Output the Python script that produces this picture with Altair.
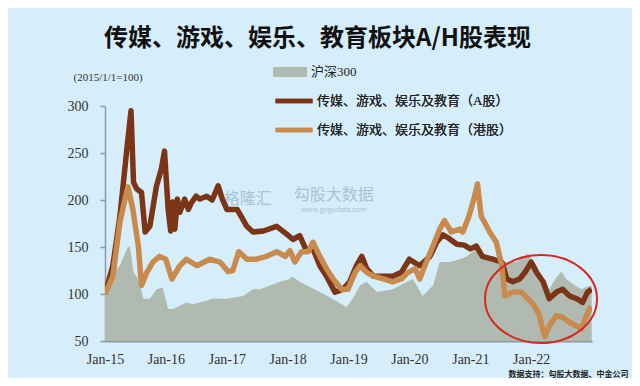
import altair as alt
import pandas as pd

# ---------------- data ----------------
csi_dates = ["2015-01-01", "2015-02-17", "2015-04-01", "2015-05-12", "2015-05-30", "2015-06-21",
             "2015-07-20", "2015-08-19", "2015-09-27", "2015-11-06", "2015-12-13", "2016-01-15",
             "2016-02-13", "2016-05-04", "2016-06-13", "2016-07-23", "2016-10-08", "2017-01-01",
             "2017-04-09", "2017-06-07", "2017-07-20", "2017-11-14", "2018-01-15", "2018-01-26",
             "2018-03-14", "2018-07-13", "2018-09-27", "2018-12-20", "2019-01-26", "2019-03-11",
             "2019-04-20", "2019-06-21", "2019-09-24", "2019-12-17", "2020-01-22", "2020-03-21",
             "2020-05-22", "2020-07-01", "2020-09-02", "2020-10-30", "2020-12-09", "2021-02-06",
             "2021-04-09", "2021-06-13", "2021-08-08", "2021-10-05", "2021-12-13", "2022-02-02",
             "2022-03-14", "2022-04-19", "2022-05-26", "2022-07-01", "2022-07-30", "2022-09-06",
             "2022-10-30", "2022-12-05", "2022-12-30"]
csi_values = [100, 123, 130, 148, 151, 123,
              116, 95, 95, 105, 107, 84,
              84, 91, 89, 91, 95, 95,
              98, 105, 105, 113, 116, 119,
              113, 102, 95, 86, 95, 109,
              113, 102, 105, 113, 116, 98,
              109, 134, 134, 137, 140, 148,
              137, 135, 134, 134, 143, 130,
              116, 105, 116, 124, 116, 111,
              105, 108, 109]

a_dates = ["2015-01-01", "2015-02-17", "2015-04-01", "2015-05-12", "2015-06-06", "2015-06-21",
           "2015-07-09", "2015-08-08", "2015-08-30", "2015-09-27", "2015-11-06", "2015-12-05",
           "2015-12-24", "2016-01-15", "2016-01-30", "2016-02-12", "2016-02-24", "2016-03-10",
           "2016-03-25", "2016-04-23", "2016-05-15", "2016-06-02", "2016-07-01", "2016-07-23",
           "2016-09-02", "2016-10-05", "2016-11-10", "2016-12-05", "2017-01-01", "2017-03-04",
           "2017-05-01", "2017-06-07", "2017-08-08", "2017-10-27", "2017-12-24", "2018-02-02",
           "2018-03-14", "2018-04-19", "2018-06-02", "2018-07-13", "2018-08-22", "2018-10-12",
           "2018-11-28", "2019-01-08", "2019-02-17", "2019-03-22", "2019-04-20", "2019-05-30",
           "2019-07-28", "2019-09-24", "2019-11-14", "2020-01-01", "2020-03-03", "2020-05-04",
           "2020-06-13", "2020-07-20", "2020-08-18", "2020-10-12", "2020-11-25", "2021-01-01",
           "2021-02-06", "2021-03-14", "2021-05-15", "2021-07-09", "2021-08-08", "2021-09-13",
           "2021-10-23", "2021-11-25", "2022-01-01", "2022-02-02", "2022-03-14", "2022-04-19",
           "2022-06-02", "2022-07-09", "2022-08-18", "2022-10-01", "2022-11-06", "2022-12-05",
           "2022-12-30"]
a_values = [100, 130, 183, 254, 295, 219,
            212, 208, 166, 172, 215, 233,
            252, 190, 167, 198, 169, 201,
            187, 201, 190, 197, 204, 201,
            204, 200, 215, 201, 190, 190,
            172, 166, 167, 172, 164, 158,
            162, 148, 148, 130, 119, 102,
            105, 113, 130, 140, 127, 119,
            119, 119, 123, 137, 130, 140,
            155, 163, 160, 153, 152, 148,
            151, 140, 137, 134, 116, 113,
            116, 123, 134, 123, 113, 95,
            102, 105, 98, 95, 91, 102,
            105]

hk_dates = ["2015-01-01", "2015-02-17", "2015-04-01", "2015-05-01", "2015-05-19", "2015-06-17",
            "2015-07-20", "2015-08-08", "2015-09-09", "2015-10-16", "2015-11-24", "2016-01-01",
            "2016-02-06", "2016-03-25", "2016-05-04", "2016-07-05", "2016-09-20", "2016-11-21",
            "2017-01-08", "2017-02-06", "2017-03-14", "2017-05-01", "2017-06-28", "2017-08-25",
            "2017-10-27", "2017-12-17", "2018-01-15", "2018-02-13", "2018-03-25", "2018-05-04",
            "2018-06-02", "2018-07-13", "2018-08-22", "2018-10-01", "2018-11-21", "2018-12-28",
            "2019-02-10", "2019-03-11", "2019-04-20", "2019-05-30", "2019-07-28", "2019-09-24",
            "2019-11-14", "2019-12-24", "2020-02-06", "2020-03-03", "2020-04-12", "2020-05-22",
            "2020-07-01", "2020-07-30", "2020-09-09", "2020-10-30", "2020-11-17", "2020-12-24",
            "2021-01-22", "2021-02-13", "2021-03-07", "2021-04-09", "2021-04-27", "2021-06-06",
            "2021-07-09", "2021-07-27", "2021-09-13", "2021-11-03", "2021-12-13", "2022-01-22",
            "2022-02-20", "2022-03-14", "2022-03-25", "2022-04-19", "2022-06-02", "2022-07-09",
            "2022-08-18", "2022-10-01", "2022-10-30", "2022-11-28", "2022-12-27"]
hk_values = [100, 119, 177, 201, 214, 190,
             151, 109, 123, 134, 140, 137,
             116, 130, 137, 130, 137, 134,
             124, 125, 145, 137, 137, 140,
             145, 140, 146, 134, 145, 145,
             155, 140, 127, 116, 105, 105,
             123, 130, 123, 119, 116, 113,
             116, 123, 127, 116, 134, 151,
             169, 178, 166, 169, 166, 183,
             201, 217, 183, 172, 166, 155,
             130, 98, 102, 102, 95, 87,
             77, 60, 55, 66, 77, 75,
             70, 66, 63, 77, 87]

tick_years = [2015, 2016, 2017, 2018, 2019, 2020, 2021, 2022]
y_ticks = [50, 100, 150, 200, 250, 300]

SERIES_CSI = "沪深300"
SERIES_A = "传媒、游戏、娱乐及教育（A股）"
SERIES_HK = "传媒、游戏、娱乐及教育（港股）"

TITLE = "传媒、游戏、娱乐、教育板块A/H股表现"
Y_NOTE = "(2015/1/1=100)"
SOURCE = "数据支持：勾股大数据、中金公司"

# highlighted region (red ellipse) centre, in data units
circle_date = ["2022-03-01"]
circle_value = [94.7]

# watermarks in data units
wm_dates = ["2017-05-07", "2018-10-05", "2018-10-05"]
wm_values = [201, 205, 189]
wm_labels = ["格隆汇", "勾股大数据", "www.gogudata.com"]
wm_sizes = [16, 16, 7]

# ---------------- styling ----------------
BG = "#d6eefa"
AREA = "#b1bab0"
DARK = "#7b3416"
LIGHT = "#c98a4e"
AXIS = "#8d99a4"
SERIF = "Liberation Serif, Noto Sans CJK SC"
CJK = "Noto Sans CJK SC"

csi = pd.DataFrame({"date": csi_dates, "value": csi_values, "series": SERIES_CSI})
a_df = pd.DataFrame({"date": a_dates, "value": a_values, "series": SERIES_A})
hk_df = pd.DataFrame({"date": hk_dates, "value": hk_values, "series": SERIES_HK})

x_scale = alt.Scale(type="utc",
                    domain=[alt.DateTime(year=2015, month=1, date=1, utc=True),
                            alt.DateTime(year=2023, month=1, date=1, utc=True)])
y_scale = alt.Scale(domain=[50, 300], nice=False, zero=False)

x_enc = alt.X("date:T", scale=x_scale,
              axis=alt.Axis(values=[alt.DateTime(year=y, month=1, date=1, utc=True) for y in tick_years],
                            labelExpr="utcFormat(datum.value, '%b-%y')",
                            grid=False, ticks=False, domainColor=AXIS, domainWidth=2,
                            labelFont=SERIF, labelFontSize=14, labelColor="#333",
                            labelPadding=11, labelFlush=False,
                            title=SOURCE, titleFont=CJK, titleFontSize=8, titleFontWeight="bold",
                            titleColor="#222", titleAnchor="end", titleAlign="right",
                            titleBaseline="middle", titleX=523, titleY=33))
y_enc = alt.Y("value:Q", scale=y_scale,
              axis=alt.Axis(values=y_ticks, grid=False, domainColor=AXIS, domainWidth=1.5,
                            tickColor=AXIS, tickSize=5, tickWidth=1.5,
                            labelFont=SERIF, labelFontSize=14, labelColor="#333", labelPadding=12,
                            title=Y_NOTE, titleFont=SERIF, titleFontSize=11, titleFontWeight="normal",
                            titleColor="#333", titleAngle=0, titleAlign="left",
                            titleBaseline="middle", titleX=-32, titleY=-29))

area = alt.Chart(csi).mark_area(clip=True).encode(
    x=x_enc,
    y=y_enc,
    y2=alt.datum(50),
    fill=alt.Fill("series:N",
                  scale=alt.Scale(domain=[SERIES_CSI], range=[AREA]),
                  legend=alt.Legend(title=None, orient="none", legendX=168, legendY=-41,
                                    symbolType="M-1,-0.3H1V0.3H-1Z", symbolSize=1156,
                                    symbolStrokeWidth=0, symbolOpacity=1, clipHeight=14,
                                    labelFont=SERIF, labelFontSize=13, labelColor="#222",
                                    labelOffset=4, labelLimit=0)),
)

stroke_scale = alt.Scale(domain=[SERIES_A, SERIES_HK], range=[DARK, LIGHT])
stroke_legend = alt.Legend(title=None, orient="none", legendX=168, legendY=-12,
                           symbolType="stroke", symbolSize=1369, symbolStrokeWidth=4.5,
                           clipHeight=14, rowPadding=15, labelLimit=0,
                           labelFont=SERIF, labelFontSize=13, labelColor="#222", labelOffset=2)

line_a = alt.Chart(a_df).mark_line(strokeWidth=5.5, clip=True, strokeJoin="round").encode(
    x="date:T", y="value:Q",
    stroke=alt.Stroke("series:N", scale=stroke_scale, legend=stroke_legend),
)
line_hk = alt.Chart(hk_df).mark_line(strokeWidth=5.5, clip=True, strokeJoin="round").encode(
    x="date:T", y="value:Q",
    stroke=alt.Stroke("series:N", scale=stroke_scale, legend=stroke_legend),
)

ellipse = alt.Chart(pd.DataFrame({"date": circle_date, "value": circle_value})).mark_point(
    shape="M-1,0A1,0.786,0,1,1,1,0A1,0.786,0,1,1,-1,0Z", size=12544, filled=False,
    stroke="#d42a22", strokeWidth=2, opacity=1,
).encode(x="date:T", y="value:Q")

watermark = alt.Chart(pd.DataFrame({"date": wm_dates, "value": wm_values,
                                    "label": wm_labels, "fs": wm_sizes})).mark_text(
    font=CJK, color="#a3bbcf", opacity=0.85,
).encode(x="date:T", y="value:Q", text="label:N",
         size=alt.Size("fs:Q", scale=None, legend=None))

chart = alt.layer(area, watermark, line_a, line_hk, ellipse).resolve_scale(
    fill="independent", stroke="independent"
).properties(
    width=487, height=235,
    autosize=alt.AutoSizeParams(type="none"),
    padding={"left": 97, "top": 98, "right": 40, "bottom": 37},
    title=alt.TitleParams(TITLE, font=CJK, fontSize=24, fontWeight="bold", color="#111",
                          anchor="middle", frame="group", dx=-31, offset=14),
).configure(background=BG).configure_view(stroke="transparent")

chart.save("out.html", embed_options={"renderer": "svg", "actions": False})
